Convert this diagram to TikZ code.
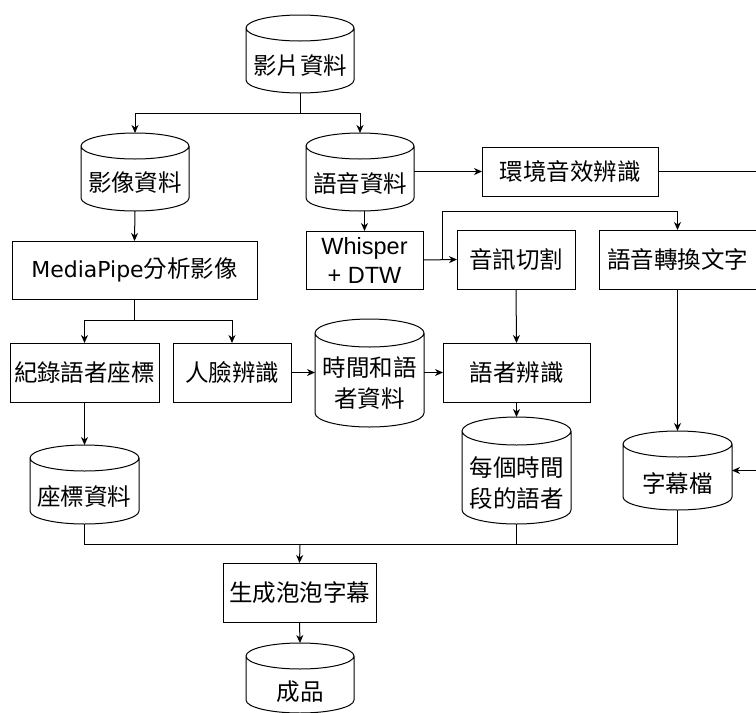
\documentclass[tikz,border=0pt]{standalone}
\usepackage{fontspec}
\setmainfont{DejaVu Sans}
\newfontfamily\cjk{Noto Sans CJK TC}
\newfontfamily\arialf{Liberation Sans}
\usetikzlibrary{arrows.meta,calc}
\tikzset{
  ln/.style={line width=1pt, draw=black},
  arr/.style={ln, -{Stealth[length=8pt,width=7pt,inset=2.5pt]}},
  box/.style={ln, rectangle, inner sep=0pt, outer sep=0pt, align=center,
    font=\cjk\fontsize{23.5}{31}\selectfont},
  db/.style={rectangle, inner sep=0pt, outer sep=0pt},
  dbtext/.style={align=center, inner sep=0pt, font=\cjk\fontsize{23.5}{31}\selectfont}
}
\newcommand\dbshape[3]{%
  \draw[ln] ([yshift=-#3pt]#1.north west) -- ([yshift=#3pt]#1.south west)
    arc[start angle=180,end angle=360,x radius=#2pt,y radius=#3pt]
    -- ([yshift=-#3pt]#1.north east)
    arc[start angle=0,end angle=180,x radius=#2pt,y radius=#3pt]
    arc[start angle=180,end angle=360,x radius=#2pt,y radius=#3pt];
}
\begin{document}
\begin{tikzpicture}[x=1pt,y=-1pt]
\useasboundingbox[fill=white] (0,0) rectangle (756,713);
% cylinders
\node[db, minimum width=108pt, minimum height=78pt, label={[dbtext,yshift=-12pt]center:影片資料}] (v) at (300,54) {};
\node[db, minimum width=108pt, minimum height=78pt, label={[dbtext,yshift=-11pt]center:影像資料}] (img) at (135,172) {};
\node[db, minimum width=108pt, minimum height=78pt, label={[dbtext,yshift=-11pt]center:語音資料}] (aud) at (360,172) {};
\node[db, minimum width=109pt, minimum height=108pt, label={[dbtext,yshift=-10pt]center:時間和語\\者資料}] (td) at (369.5,373) {};
\node[db, minimum width=109pt, minimum height=107pt, label={[dbtext,yshift=-13pt]center:每個時間\\段的語者}] (per) at (516.5,470.5) {};
\node[db, minimum width=109pt, minimum height=79pt, label={[dbtext,yshift=-13pt]center:字幕檔}] (sub) at (677.5,470.5) {};
\node[db, minimum width=109pt, minimum height=79pt, label={[dbtext,yshift=-12pt]center:座標資料}] (coord) at (84.5,484.5) {};
\node[db, minimum width=108pt, minimum height=70pt, label={[dbtext,yshift=-14pt]center:成品}] (out) at (300,678) {};
\dbshape{v}{54}{13}
\dbshape{img}{54}{13}
\dbshape{aud}{54}{13}
\dbshape{td}{54.5}{14}
\dbshape{per}{54.5}{14}
\dbshape{sub}{54.5}{13}
\dbshape{coord}{54.5}{13}
\dbshape{out}{54}{13}
% boxes
\node[box, minimum width=176pt, minimum height=49pt] (env) at (570,171.5) {環境音效辨識};
\node[box, minimum width=117pt, minimum height=58pt, font=\arialf\fontsize{23.5}{29}\selectfont] (wh) at (364.5,260) {Whisper\\+ DTW};
\node[box, minimum width=118pt, minimum height=59pt] (cut) at (516,259.5) {音訊切割};
\node[box, minimum width=157pt, minimum height=59pt] (s2t) at (677.5,259.5) {語音轉換文字};
\node[box, minimum width=245pt, minimum height=58pt] (mp) at (134.5,270) {{\rmfamily\fontsize{22}{29}\selectfont MediaPipe}分析影像};
\node[box, minimum width=149pt, minimum height=59pt] (rec) at (84.5,372.5) {紀錄語者座標};
\node[box, minimum width=118pt, minimum height=59pt] (face) at (232,372.5) {人臉辨識};
\node[box, minimum width=147pt, minimum height=59pt] (spk) at (516.5,372.5) {語者辨識};
\node[box, minimum width=153pt, minimum height=59pt] (gen) at (299.5,592.5) {生成泡泡字幕};
% junctions
\coordinate (j1) at (300,113);
\coordinate (j2) at (442,260);
\coordinate (j3) at (442,211);
\coordinate (j4) at (134.5,320);
\coordinate (j5) at (300,544);
\coordinate (far) at (762,171.5);
% connectors
\draw[ln] (v.south) -- (j1);
\draw[arr] (j1) -| (img.north);
\draw[arr] (j1) -| (aud.north);
\draw[arr] (aud.east |- env.west) -- (env.west);
\draw[ln] (env.east) -- (far);
\draw[arr] (far) |- (sub.east);
\draw[arr] (wh.north |- aud.south) -- (wh.north);
\draw[arr] (wh.east) -- (cut.west);
\draw[ln] (j2) -- (j3);
\draw[arr] (j3) -| (s2t.north);
\draw[arr] (cut.south) -- (spk.north);
\draw[arr] (s2t.south -| sub.north) -- (sub.north);
\draw[arr] (img.south) -- (mp.north);
\draw[ln] (mp.south) -- (j4);
\draw[arr] (j4) -| (rec.north);
\draw[arr] (j4) -| (face.north);
\draw[arr] (face.east) -- (td.west |- face.east);
\draw[arr] (td.east |- spk.west) -- (spk.west);
\draw[arr] (spk.south) -- (per.north);
\draw[arr] (rec.south) -- (coord.north);
\draw[ln] (coord.south) |- (j5);
\draw[ln] (per.south) |- (j5);
\draw[ln] (sub.south) |- (j5);
\draw[arr] (j5) -- (gen.north);
\draw[arr] (gen.south) -- (out.north);
\end{tikzpicture}
\end{document}
